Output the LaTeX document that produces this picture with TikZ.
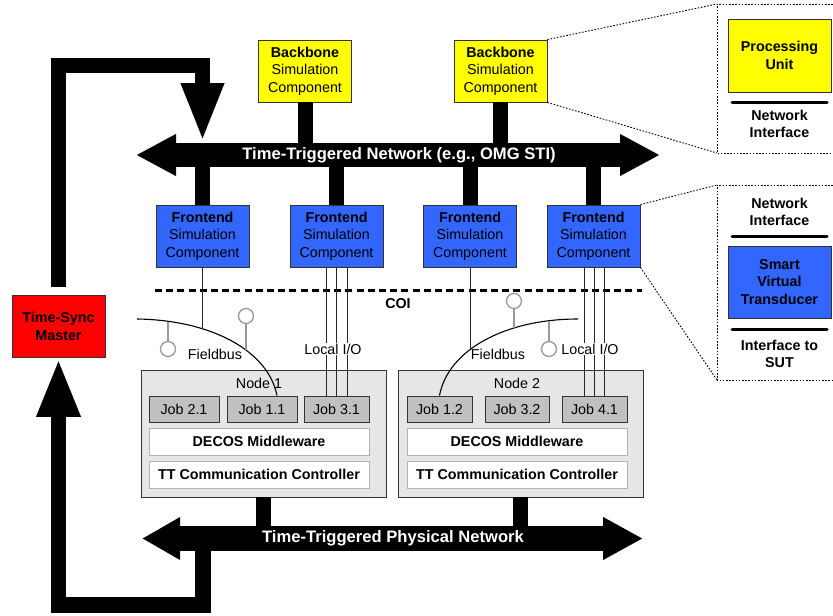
\documentclass[tikz,border=0pt]{standalone}
\usepackage{fontspec}
\setmainfont{Liberation Sans}
\usetikzlibrary{arrows.meta,calc}
\definecolor{feblue}{HTML}{3366FF}
\definecolor{bbyellow}{HTML}{FFFF00}
\definecolor{syncred}{HTML}{FF0000}
\definecolor{nodegray}{HTML}{E6E6E6}
\definecolor{jobgray}{HTML}{C0C0C0}
\definecolor{edgegray}{HTML}{333333}
\definecolor{sensorgray}{HTML}{999999}

\tikzset{
  base/.style={font=\fontsize{14.3}{17.5}\selectfont},
  simbox/.style={rectangle, draw=edgegray, line width=0.9pt, minimum width=93pt,
    minimum height=62pt, align=center, inner sep=0pt, base},
  bbbox/.style={simbox, fill=bbyellow},
  febox/.style={simbox, fill=feblue},
  syncbox/.style={simbox, fill=syncred, font=\fontsize{14.3}{17.5}\selectfont\bfseries},
  nodebox/.style={rectangle, draw=edgegray, fill=nodegray, line width=0.9pt,
    minimum width=245pt, minimum height=127pt, inner sep=0pt},
  jobbox/.style={rectangle, draw=edgegray, fill=jobgray, line width=0.9pt,
    minimum height=26pt, inner sep=0pt, base},
  layerbox/.style={rectangle, draw=black!30, fill=white, line width=0.9pt,
    minimum width=220pt, minimum height=27pt, inner sep=0pt,
    font=\fontsize{14.3}{17.5}\selectfont\bfseries},
  stub/.style={line width=15pt},
  fatline/.style={line width=15.5pt, line join=miter},
  netlabel/.style={text=white, font=\fontsize{16.6}{19}\selectfont\bfseries, inner sep=0pt},
  wire/.style={line width=0.9pt, black!85},
  bus/.style={line width=1.1pt, black},
  sensor/.style={circle, draw=sensorgray, fill=white, line width=1.3pt,
    minimum size=15pt, inner sep=0pt},
  sensorline/.style={draw=sensorgray, line width=1.3pt},
  lbl/.style={base, inner sep=1pt},
  zoomline/.style={line width=0.9pt, dash pattern=on 1.6pt off 1.6pt},
  panelbox/.style={rectangle, draw=edgegray, line width=0.9pt, minimum width=103pt,
    inner sep=0pt, align=center, font=\fontsize{14.3}{17.5}\selectfont\bfseries},
  bar/.style={line width=3pt, line cap=round},
}

\begin{document}
\begin{tikzpicture}[x=1pt,y=-1pt]
\useasboundingbox (0,0) rectangle (833,616);

% ---- simulation components ----
\node[bbbox] (bb1) at (305,71) {\textbf{Backbone}\\Simulation\\Component};
\node[bbbox] (bb2) at (500.5,71) {\textbf{Backbone}\\Simulation\\Component};
\node[febox] (fe1) at (202.5,236) {\textbf{Frontend}\\Simulation\\Component};
\node[febox] (fe2) at (336.5,236) {\textbf{Frontend}\\Simulation\\Component};
\node[febox] (fe3) at (470,236) {\textbf{Frontend}\\Simulation\\Component};
\node[febox] (fe4) at (593.5,236) {\textbf{Frontend}\\Simulation\\Component};
\node[syncbox] (sync) at (58.5,326.5) {Time-Sync\\Master};

% network reference lines
\coordinate (net) at (0,155);
\coordinate (netL) at (136,155);
\coordinate (netR) at (660,155);
\coordinate (phy) at (0,538.5);
\coordinate (phyL) at (142,538.5);
\coordinate (phyR) at (643,538.5);

% ---- DECOS nodes ----
\node[nodebox] (n1) at (263.5,433.5) {};
\node[nodebox] (n2) at (520.5,433.5) {};
\node[lbl] (t1) at (259,383) {Node 1};
\node[lbl] (t2) at (517,383) {Node 2};
\node[jobbox, minimum width=70pt] (j21) at (184,409) {Job 2.1};
\node[jobbox, minimum width=70pt] (j11) at (262,409) {Job 1.1};
\node[jobbox, minimum width=65pt] (j31) at (336.5,409) {Job 3.1};
\node[jobbox, minimum width=65pt] (j12) at (439.5,409) {Job 1.2};
\node[jobbox, minimum width=64pt] (j32) at (517,409) {Job 3.2};
\node[jobbox, minimum width=65pt] (j41) at (594.5,409) {Job 4.1};
\node[layerbox] (mw1) at (259,441.5) {DECOS Middleware};
\node[layerbox] (cc1) at (259,474.5) {TT Communication Controller};
\node[layerbox] (mw2) at (517,441.5) {DECOS Middleware};
\node[layerbox] (cc2) at (517,474.5) {TT Communication Controller};

% ---- stubs onto the simulation network ----
\draw[stub] (bb1.south) -- (bb1.south |- net);
\draw[stub] (bb2.south) -- (bb2.south |- net);
\draw[stub] (fe2.north) -- (fe2.north |- net);
\draw[stub] (fe3.north) -- (fe3.north |- net);
\draw[stub] (fe4.north) -- (fe4.north |- net);
\draw[stub] (fe1.north) -- (fe1.north |- net);

% ---- stubs onto the physical network ----
\draw[stub] (n1.south) -- (n1.south |- phy);
\draw[stub] (n2.south) -- (n2.south |- phy);

% ---- network bars ----
\draw[line width=24pt, {Triangle[width=39pt,length=40pt]}-{Triangle[width=39pt,length=40pt]}]
  (netL) -- (netR);
\node[netlabel] (netlbl) at (399,155) {Time-Triggered Network (e.g., OMG STI)};
\draw[line width=25pt, {Triangle[width=40pt,length=38pt]}-{Triangle[width=40pt,length=40pt]}]
  (phyL) -- (phyR);
\node[netlabel] (phylbl) at (393,538.5) {Time-Triggered Physical Network};

% ---- clock synchronisation loop ----
\coordinate (loopTL) at (58.5,65.5);
\coordinate (loopBL) at (58.5,605);
\draw[fatline, -{Triangle[width=39pt,length=59pt]}]
  ([yshift=8pt]sync.north) -- (loopTL) -- (loopTL -| fe1.north) -- (fe1.north |- 0,142);
\draw[fatline, -{Triangle[width=40pt,length=59pt]}]
  (203,551) -- (203,605) -- (loopBL) -- (sync.south);

% ---- cluster of interest boundary ----
\coordinate (coiL) at (155,290);
\coordinate (coiR) at (642,290);
\draw[line width=3pt, dash pattern=on 7pt off 4.2pt] (coiL) -- (coiR);
\node[lbl, font=\fontsize{14.3}{17.5}\selectfont\bfseries] (coi) at (398,304) {COI};

% ---- fieldbus of node 1 ----
\coordinate (fb1s) at (137,319);
\draw[bus] (fb1s) .. controls (210,320) and (268,350) .. ([xshift=15pt]j11.north);
\draw[wire] (fe1.south) -- (fe1.south |- 0,329);
\node[sensor] (s11) at (168,349) {};
\draw[sensorline] (s11.north) -- (s11.north |- 0,322);
\node[sensor] (s12) at (246,316) {};
\draw[sensorline] (s12.south) -- (s12.south |- 0,349.5);
\node[lbl] (fbl1) at (215,354) {Fieldbus};

% ---- local I/O of node 1 ----
\foreach \d in {-10.5,0,10.5}{
  \path ([xshift=\d pt]fe2.south) coordinate (io);
  \draw[wire] (io) -- (io |- j31.north);
}
\node[lbl, fill=white] (io1) at (333,349) {Local I/O};

% ---- fieldbus of node 2 ----
\coordinate (fb2e) at (578,319);
\draw[bus] (j12.north) .. controls (448,350) and (505,319) .. (fb2e);
\draw[wire] (fe3.south) -- (fe3.south |- 0,349);
\node[sensor] (s21) at (514,301) {};
\draw[sensorline] (s21.south) -- (s21.south |- 0,328);
\node[sensor] (s22) at (549,349) {};
\draw[sensorline] (s22.north) -- (s22.north |- 0,321);
\node[lbl] (fbl2) at (498,354) {Fieldbus};

% ---- local I/O of node 2 ----
\foreach \d in {-9.5,0.5,10.5}{
  \path ([xshift=\d pt]fe4.south) coordinate (io);
  \draw[wire] (io) -- (io |- j41.north);
}
\node[lbl, fill=white] (io2) at (590,349) {Local I/O};

% ---- detail of a backbone simulation component ----
\coordinate (p1tl) at (717,4);
\coordinate (p1bl) at (717,153);
\draw[zoomline] (833,4) -- (p1tl) -- (p1bl) -- (833,153);
\draw[zoomline] (bb2.north east) -- (p1tl);
\draw[zoomline] (bb2.south east) -- (p1bl);
\node[panelbox, fill=bbyellow, minimum height=73pt] (pu) at (779.5,55.5) {Processing\\Unit};
\coordinate (ni1a) at (732,102);
\coordinate (ni1b) at (827,102);
\draw[bar] (ni1a) -- (ni1b);
\node[panelbox, draw=none] (ni1) at (779.5,124) {Network\\Interface};

% ---- detail of a frontend simulation component ----
\coordinate (p2tl) at (717,185);
\coordinate (p2bl) at (717,380);
\draw[zoomline] (833,185) -- (p2tl) -- (p2bl) -- (833,380);
\draw[zoomline] (fe4.north east) -- (p2tl);
\draw[zoomline] (fe4.south east) -- (p2bl);
\node[panelbox, draw=none] (ni2) at (779.5,212) {Network\\Interface};
\coordinate (ni2a) at (732,236);
\coordinate (ni2b) at (827,236);
\draw[bar] (ni2a) -- (ni2b);
\node[panelbox, fill=feblue, minimum height=72pt] (svt) at (779.5,282) {Smart\\Virtual\\Transducer};
\coordinate (sut1) at (732,329);
\coordinate (sut2) at (827,329);
\draw[bar] (sut1) -- (sut2);
\node[panelbox, draw=none] (sut) at (779.5,354) {Interface to\\SUT};

\end{tikzpicture}
\end{document}
